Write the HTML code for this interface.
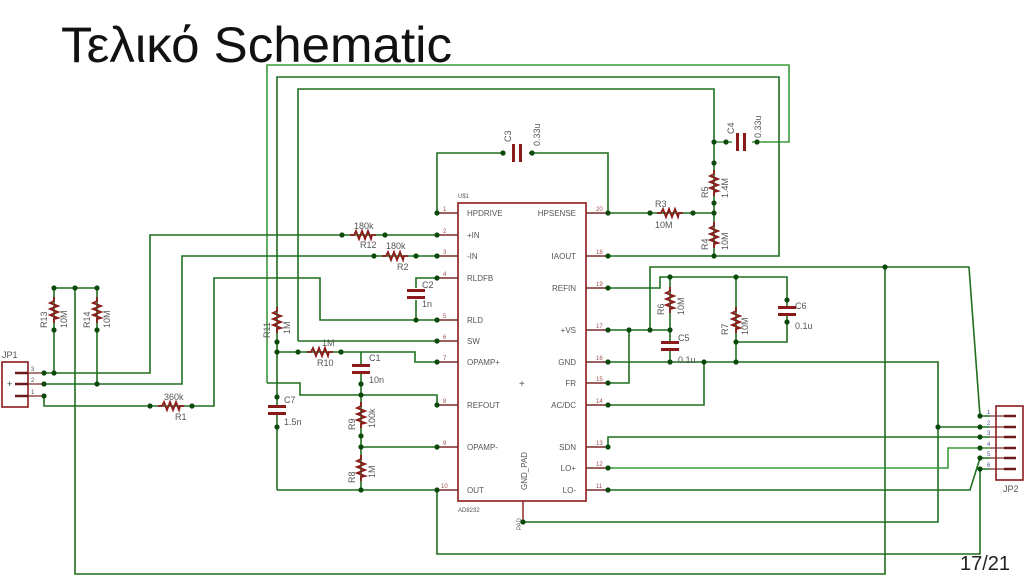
<!DOCTYPE html>
<html><head><meta charset="utf-8"><style>
html,body{margin:0;padding:0;background:#fff;width:1024px;height:576px;overflow:hidden}
svg{position:absolute;left:0;top:0}
.t{font-family:"Liberation Sans",sans-serif;fill:#555}
</style></head><body>
<svg width="1024" height="576" viewBox="0 0 1024 576" xmlns="http://www.w3.org/2000/svg">
<defs>
<symbol id="rh" overflow="visible"><path d="M-13,0 H-9 L-7,-4 L-4,4 L-1,-4 L2,4 L5,-4 L8,4 L9,0 H13" fill="none" stroke="#8b1a1a" stroke-width="1.8"/></symbol>
<symbol id="rv" overflow="visible"><path d="M0,-13 V-9 L-4,-7 L4,-4 L-4,-1 L4,2 L-4,5 L4,8 L0,9 V13" fill="none" stroke="#8b1a1a" stroke-width="1.8"/></symbol>
<symbol id="cv" overflow="visible"><rect x="-9" y="-5" width="18" height="3" fill="#8b1a1a"/><rect x="-9" y="2" width="18" height="3" fill="#8b1a1a"/></symbol>
<symbol id="ch" overflow="visible"><rect x="-5" y="-9" width="3" height="18" fill="#8b1a1a"/><rect x="2" y="-9" width="3" height="18" fill="#8b1a1a"/></symbol>
</defs>
<text x="61" y="62" class="t" style="fill:#111" font-size="50" textLength="391" lengthAdjust="spacingAndGlyphs">Τελικό Schematic</text>
<text x="960" y="570" class="t" style="fill:#222" font-size="20">17/21</text>

<g fill="none" stroke="#1f6f1f" stroke-width="1.6">
<path d="M267,383 V65 H789 V142 H714" stroke="#3a9a3a"/>
<path d="M267,383 H300 V395 H437 V405"/>
<path d="M277,490 V77 H779 V256 H608"/>
<path d="M277,490 H437"/>
<path d="M298,341 V89 H714 V256"/>
<path d="M298,341 H437"/>
<path d="M437,213 V153 H608 V213"/>
<path d="M608,213 H714"/>
<path d="M44,373 H150 V235 H437"/>
<path d="M44,384 H182 V256 H437"/>
<path d="M44,396 V406 H214 V278 H320 V320 H437"/>
<path d="M437,278 H416 V320"/>
<path d="M54,373 V288 H97 V384"/>
<path d="M75,288 V574 H885 V267"/>
<path d="M277,352 H415 V362 H437"/>
<path d="M361,352 V490"/>
<path d="M361,447 H437"/>
<path d="M650,330 V267 H969 L980,416 H990"/>
<path d="M608,288 H660 V277 H787 V342 H736"/>
<path d="M670,277 V362"/>
<path d="M736,277 V362"/>
<path d="M608,330 H670"/>
<path d="M629,330 V383 H608"/>
<path d="M608,362 H938 V522 H523"/>
<path d="M938,427 H990"/>
<path d="M704,362 V405 H608"/>
<path d="M608,447 V437 H990"/>
<path d="M608,468 H948 V448 H990" stroke="#3a9a3a"/>
<path d="M608,490 H970 L980,458 H990"/>
<path d="M437,490 V554 H980 V469 H990"/>
</g>

<g fill="#fff">
<rect x="505" y="145" width="24" height="16"/><rect x="732" y="134" width="20" height="16"/>
<rect x="412" y="288" width="8" height="12"/><rect x="357" y="364" width="8" height="10"/>
<rect x="273" y="405" width="8" height="10"/><rect x="666" y="341" width="8" height="10"/>
<rect x="783" y="306" width="8" height="10"/>
</g>

<rect x="458" y="203" width="128" height="298" fill="#fff" stroke="#8b1a1a" stroke-width="1.6"/>
<path d="M523,501 V522" stroke="#8b1a1a" stroke-width="1.4"/>
<g stroke="#7a2a2a" stroke-width="1.4">
<path d="M437,213H458M437,235H458M437,256H458M437,278H458M437,320H458M437,341H458M437,362H458M437,405H458M437,447H458M437,490H458"/>
<path d="M586,213H608M586,256H608M586,288H608M586,330H608M586,362H608M586,383H608M586,405H608M586,447H608M586,468H608M586,490H608"/>
</g>
<g class="t" font-size="8">
<text x="467" y="216">HPDRIVE</text><text x="467" y="238">+IN</text><text x="467" y="259">-IN</text>
<text x="467" y="281">RLDFB</text><text x="467" y="323">RLD</text><text x="467" y="344">SW</text>
<text x="467" y="365">OPAMP+</text><text x="467" y="408">REFOUT</text><text x="467" y="450">OPAMP-</text><text x="467" y="493">OUT</text>
<g text-anchor="end"><text x="576" y="216">HPSENSE</text><text x="576" y="259">IAOUT</text><text x="576" y="291">REFIN</text>
<text x="576" y="333">+VS</text><text x="576" y="365">GND</text><text x="576" y="386">FR</text><text x="576" y="408">AC/DC</text>
<text x="576" y="450">SDN</text><text x="576" y="471">LO+</text><text x="576" y="493">LO-</text></g>
<text transform="translate(527,490) rotate(-90)">GND_PAD</text>
<text transform="translate(521,530) rotate(-90)" font-size="6">PAD</text>
<text x="458" y="198" font-size="6">U$1</text><text x="458" y="512" font-size="6">AD8232</text>
<text x="519" y="387" font-size="10">+</text>
</g>
<g class="t" font-size="6" style="fill:#a05050">
<text x="443" y="211">1</text><text x="443" y="233">2</text><text x="443" y="254">3</text><text x="443" y="276">4</text><text x="443" y="318">5</text><text x="443" y="339">6</text><text x="443" y="360">7</text><text x="443" y="403">8</text><text x="443" y="445">9</text><text x="441" y="488">10</text>
<text x="596" y="211">20</text><text x="596" y="254">18</text><text x="596" y="286">19</text><text x="596" y="328">17</text><text x="596" y="360">16</text><text x="596" y="381">15</text><text x="596" y="403">14</text><text x="596" y="445">13</text><text x="596" y="466">12</text><text x="596" y="488">11</text>
</g>

<use href="#rh" x="363" y="235"/><use href="#rh" x="395" y="256"/><use href="#rh" x="320" y="352"/>
<use href="#rh" x="171" y="406"/><use href="#rh" x="670" y="213"/>
<use href="#rv" x="54" y="310"/><use href="#rv" x="97" y="310"/><use href="#rv" x="277" y="320"/>
<use href="#rv" x="361" y="415"/><use href="#rv" x="361" y="468"/>
<use href="#rv" x="714" y="183"/><use href="#rv" x="714" y="235"/>
<use href="#rv" x="670" y="300"/><use href="#rv" x="736" y="320"/>
<use href="#cv" x="416" y="294"/><use href="#cv" x="361" y="369"/><use href="#cv" x="277" y="410"/>
<use href="#cv" x="670" y="346"/><use href="#cv" x="787" y="311"/>
<use href="#ch" x="517" y="153"/><use href="#ch" x="741" y="142"/>

<g class="t" font-size="9">
<text x="354" y="229">180k</text><text x="360" y="248">R12</text>
<text x="386" y="249">180k</text><text x="397" y="270">R2</text>
<text x="422" y="288">C2</text><text x="422" y="307">1n</text>
<text x="322" y="346">1M</text><text x="317" y="366">R10</text>
<text x="369" y="361">C1</text><text x="369" y="383">10n</text>
<text x="284" y="403">C7</text><text x="284" y="425">1.5n</text>
<text x="164" y="400">360k</text><text x="175" y="420">R1</text>
<text x="655" y="207">R3</text><text x="655" y="228">10M</text>
<text x="678" y="341">C5</text><text x="678" y="363">0.1u</text>
<text x="795" y="309">C6</text><text x="795" y="329">0.1u</text>
<text x="2" y="358">JP1</text><text x="1003" y="492">JP2</text>
<text transform="translate(47,328) rotate(-90)">R13</text><text transform="translate(67,328) rotate(-90)">10M</text>
<text transform="translate(90,328) rotate(-90)">R14</text><text transform="translate(110,328) rotate(-90)">10M</text>
<text transform="translate(270,338) rotate(-90)">R11</text><text transform="translate(290,334) rotate(-90)">1M</text>
<text transform="translate(355,430) rotate(-90)">R9</text><text transform="translate(375,428) rotate(-90)">100k</text>
<text transform="translate(355,483) rotate(-90)">R8</text><text transform="translate(375,478) rotate(-90)">1M</text>
<text transform="translate(511,142) rotate(-90)">C3</text><text transform="translate(540,146) rotate(-90)">0.33u</text>
<text transform="translate(734,134) rotate(-90)">C4</text><text transform="translate(761,138) rotate(-90)">0.33u</text>
<text transform="translate(708,198) rotate(-90)">R5</text><text transform="translate(728,198) rotate(-90)">1.4M</text>
<text transform="translate(708,250) rotate(-90)">R4</text><text transform="translate(728,250) rotate(-90)">10M</text>
<text transform="translate(664,315) rotate(-90)">R6</text><text transform="translate(684,315) rotate(-90)">10M</text>
<text transform="translate(728,335) rotate(-90)">R7</text><text transform="translate(748,335) rotate(-90)">10M</text>
</g>

<rect x="2" y="362" width="26" height="45" fill="#fff" stroke="#8b1a1a" stroke-width="1.6"/>
<g stroke="#6a1a1a" stroke-width="2.5"><path d="M15,373H28M15,384H28M15,396H28"/></g>
<path d="M28,373H44M28,384H44M28,396H44" stroke="#7a2a2a" stroke-width="1.2"/>
<g class="t" font-size="6"><text x="31" y="371">3</text><text x="31" y="382">2</text><text x="31" y="394">1</text><text x="7" y="387" font-size="9" style="fill:#333">+</text></g>
<rect x="996" y="406" width="27" height="74" fill="#fff" stroke="#8b1a1a" stroke-width="1.6"/>
<g stroke="#6a1a1a" stroke-width="2.5"><path d="M1004,416H1016M1004,427H1016M1004,437H1016M1004,448H1016M1004,458H1016M1004,469H1016"/></g>
<path d="M990,416H1004M990,427H1004M990,437H1004M990,448H1004M990,458H1004M990,469H1004" stroke="#7a2a2a" stroke-width="1.2"/>
<g class="t" font-size="6" style="fill:#5050a0"><text x="987" y="414">1</text><text x="987" y="425">2</text><text x="987" y="435">3</text><text x="987" y="446">4</text><text x="987" y="456">5</text><text x="987" y="467">6</text></g>

<g fill="#0b4a0b">
<circle cx="437" cy="213" r="2.6"/><circle cx="437" cy="235" r="2.6"/><circle cx="437" cy="256" r="2.6"/><circle cx="437" cy="278" r="2.6"/><circle cx="437" cy="320" r="2.6"/><circle cx="437" cy="341" r="2.6"/><circle cx="437" cy="362" r="2.6"/><circle cx="437" cy="405" r="2.6"/><circle cx="437" cy="447" r="2.6"/><circle cx="437" cy="490" r="2.6"/>
<circle cx="608" cy="213" r="2.6"/><circle cx="608" cy="256" r="2.6"/><circle cx="608" cy="288" r="2.6"/><circle cx="608" cy="330" r="2.6"/><circle cx="608" cy="362" r="2.6"/><circle cx="608" cy="383" r="2.6"/><circle cx="608" cy="405" r="2.6"/><circle cx="608" cy="447" r="2.6"/><circle cx="608" cy="468" r="2.6"/><circle cx="608" cy="490" r="2.6"/>
<circle cx="342" cy="235" r="2.6"/><circle cx="385" cy="235" r="2.6"/><circle cx="374" cy="256" r="2.6"/><circle cx="416" cy="256" r="2.6"/>
<circle cx="416" cy="320" r="2.6"/><circle cx="298" cy="352" r="2.6"/><circle cx="341" cy="352" r="2.6"/><circle cx="277" cy="342" r="2.6"/><circle cx="277" cy="352" r="2.6"/>
<circle cx="361" cy="384" r="2.6"/><circle cx="361" cy="395" r="2.6"/><circle cx="361" cy="436" r="2.6"/><circle cx="361" cy="447" r="2.6"/><circle cx="361" cy="490" r="2.6"/>
<circle cx="277" cy="397" r="2.6"/><circle cx="277" cy="427" r="2.6"/>
<circle cx="150" cy="406" r="2.6"/><circle cx="192" cy="406" r="2.6"/>
<circle cx="54" cy="288" r="2.6"/><circle cx="75" cy="288" r="2.6"/><circle cx="97" cy="288" r="2.6"/><circle cx="54" cy="330" r="2.6"/><circle cx="97" cy="330" r="2.6"/><circle cx="54" cy="373" r="2.6"/><circle cx="97" cy="384" r="2.6"/>
<circle cx="44" cy="373" r="2.6"/><circle cx="44" cy="384" r="2.6"/><circle cx="44" cy="396" r="2.6"/>
<circle cx="503" cy="153" r="2.6"/><circle cx="532" cy="153" r="2.6"/><circle cx="714" cy="142" r="2.6"/><circle cx="726" cy="142" r="2.6"/><circle cx="757" cy="142" r="2.6"/>
<circle cx="714" cy="163" r="2.6"/><circle cx="714" cy="203" r="2.6"/><circle cx="714" cy="213" r="2.6"/><circle cx="714" cy="256" r="2.6"/><circle cx="650" cy="213" r="2.6"/><circle cx="693" cy="213" r="2.6"/>
<circle cx="670" cy="277" r="2.6"/><circle cx="736" cy="277" r="2.6"/><circle cx="787" cy="300" r="2.6"/><circle cx="787" cy="322" r="2.6"/><circle cx="736" cy="342" r="2.6"/>
<circle cx="629" cy="330" r="2.6"/><circle cx="650" cy="330" r="2.6"/><circle cx="670" cy="330" r="2.6"/>
<circle cx="670" cy="362" r="2.6"/><circle cx="704" cy="362" r="2.6"/><circle cx="736" cy="362" r="2.6"/>
<circle cx="885" cy="267" r="2.6"/><circle cx="938" cy="427" r="2.6"/><circle cx="523" cy="522" r="2.6"/>
<circle cx="980" cy="416" r="2.6"/><circle cx="980" cy="427" r="2.6"/><circle cx="980" cy="437" r="2.6"/><circle cx="980" cy="448" r="2.6"/><circle cx="980" cy="458" r="2.6"/><circle cx="980" cy="469" r="2.6"/>
</g>
</svg>
</body></html>
